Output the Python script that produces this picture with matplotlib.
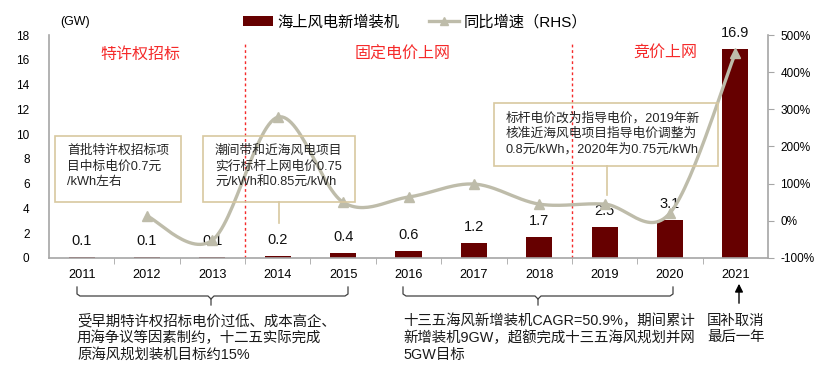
import numpy as np
import matplotlib
matplotlib.use('Agg')
import matplotlib.pyplot as plt
from matplotlib.patches import Rectangle, Patch
from matplotlib.lines import Line2D

plt.rcParams['font.family'] = ['Liberation Sans', 'Noto Sans CJK SC', 'DejaVu Sans']

years = ['2011', '2012', '2013', '2014', '2015', '2016', '2017', '2018', '2019', '2020', '2021']
installs = [0.1, 0.1, 0.1, 0.2, 0.4, 0.6, 1.2, 1.7, 2.5, 3.1, 16.9]
growth = [np.nan, 13, -52, 279, 50, 64, 99, 45, 45, 21, 451]
phase_labels = ['特许权招标', '固定电价上网', '竞价上网']
box_texts = ['首批特许权招标项\n目中标电价0.7元\n/kWh左右',
             '潮间带和近海风电项目\n实行标杆上网电价0.75\n元/kWh和0.85元/kWh',
             '标杆电价改为指导电价，2019年新\n核准近海风电项目指导电价调整为\n0.8元/kWh，2020年为0.75元/kWh']
bottom_texts = ['受早期特许权招标电价过低、成本高企、\n用海争议等因素制约，十二五实际完成\n原海风规划装机目标约15%',
                '十三五海风新增装机CAGR=50.9%，期间累计\n新增装机9GW，超额完成十三五海风规划并网\n5GW目标',
                '国补取消\n最后一年']
legend_labels = ['海上风电新增装机', '同比增速（RHS）']

W, H = 840, 381
fig = plt.figure(figsize=(W / 100, H / 100), dpi=100)
def fx(x): return x / W
def fy(y): return 1 - y / H

BAR = '#660000'
LINE = '#BEBCAA'
SPINE = '#A6A6A6'
RED = '#F52A2A'
BOXC = '#D8C8A0'

ax = fig.add_axes([fx(49), fy(258), fx(768) - fx(49), fy(35) - fy(258)])
ax2 = ax.twinx()

x = np.arange(len(years))
bars = ax.bar(x, installs, width=0.4, color=BAR, zorder=2)
ax.set_xlim(-0.5, len(years) - 0.5)
ax.set_ylim(0, 18)
ax.set_yticks(np.arange(0, 19, 2))
ax.set_xticks(x)
ax.set_xticklabels(years, fontsize=9.2)
ax.set_xticks(np.arange(0.5, len(years) - 0.5, 1), minor=True)
ax.tick_params(axis='x', which='major', length=0, pad=8)
ax.tick_params(axis='x', which='minor', length=4, color=SPINE, direction='out')
ax.tick_params(axis='y', length=0, pad=14, labelsize=8.5)
for lab in ax.get_yticklabels():
    lab.set_horizontalalignment('right')
for s in ['top', 'right']:
    ax.spines[s].set_visible(False)
ax.spines['left'].set_color(SPINE)
ax.spines['bottom'].set_color(SPINE)
ax.spines['left'].set_linewidth(1.2)
ax.spines['bottom'].set_linewidth(1.2)

for xi, v in zip(x, installs):
    ax.annotate(f'{v:.1f}', (xi, v), xytext=(0, 11.5), textcoords='offset points',
                ha='center', va='center', fontsize=10.5, color='#111111', zorder=5)

# smoothed growth line (Catmull-Rom through the data points)
gx = x[1:].astype(float)
gy = np.array(growth[1:], dtype=float)
P = np.column_stack([gx, gy])
pts = []
for i in range(len(P) - 1):
    p0 = P[i - 1] if i > 0 else P[i]
    p1, p2 = P[i], P[i + 1]
    p3 = P[i + 2] if i + 2 < len(P) else P[i + 1]
    c1 = p1 + (p2 - p0) / 6
    c2 = p2 - (p3 - p1) / 6
    t = np.linspace(0, 1, 30)[:, None]
    seg = (1 - t) ** 3 * p1 + 3 * (1 - t) ** 2 * t * c1 + 3 * (1 - t) * t ** 2 * c2 + t ** 3 * p2
    pts.append(seg if i == 0 else seg[1:])
pts = np.vstack(pts)
ax2.plot(pts[:, 0], pts[:, 1], color=LINE, lw=2.4, zorder=3, solid_capstyle='round')
ax2.plot(gx, gy, linestyle='none', marker='^', color=LINE, markersize=7, zorder=4)
ax2.set_ylim(-100, 500)
ax2.set_yticks(np.arange(-100, 501, 100))
ax2.set_yticklabels([f'{v}%' for v in range(-100, 501, 100)])
ax2.tick_params(axis='y', length=4, color=SPINE, labelsize=8.5, pad=5)
for s in ['top', 'left', 'bottom']:
    ax2.spines[s].set_visible(False)
ax2.spines['right'].set_color(SPINE)
ax2.spines['right'].set_linewidth(1.2)

# phase dividers and labels
for xd in [2.5, 7.5]:
    ax.axvline(xd, ymin=0, ymax=(258 - 42) / (258 - 35), color=RED, lw=1,
               linestyle=(0, (2, 2)), zorder=1)
for (px, py), t in zip([(140, 54), (403, 54), (665, 52)], phase_labels):
    fig.text(fx(px), fy(py), t, color=RED, fontsize=11.5, ha='center', va='center')

# annotation boxes
boxes = [(55, 136, 181, 202), (203, 136, 355, 202), (494, 103, 718, 166)]
for (x0, y0, x1, y1), t in zip(boxes, box_texts):
    fig.patches.append(Rectangle((fx(x0), fy(y1)), fx(x1) - fx(x0), fy(y0) - fy(y1),
                                 transform=fig.transFigure, facecolor='none',
                                 edgecolor=BOXC, lw=1.2, zorder=6))
    fig.text(fx(x0 + 12), fy(y0 + 9), t, fontsize=9.2, ha='left', va='top',
             color='#262626', linespacing=1.35, zorder=7)
for (lx, ly0, ly1) in [(279, 202, 223), (607, 166, 195)]:
    fig.add_artist(Line2D([fx(lx), fx(lx)], [fy(ly0), fy(ly1)], color=BOXC, lw=1.2))

# legend
handles = [Patch(facecolor=BAR, edgecolor='none'),
           Line2D([], [], color=LINE, lw=2.4, marker='^', markersize=6)]
fig.legend(handles, legend_labels, loc='center', bbox_to_anchor=(fx(415), fy(22)),
           ncol=2, frameon=False, fontsize=11, handlelength=2.0, handletextpad=0.3,
           columnspacing=1.9, borderpad=0)
fig.text(fx(60), fy(22), '(GW)', fontsize=9, ha='left', va='center')

# brackets
def bracket(xa, xm, xb, ytop=287, yh=296, ymid=305):
    c = '#404040'
    xs = [xa, xa, xa + 3, xm - 3, xm, xm]
    ys = [ytop, yh - 2, yh, yh, yh + 3, ymid]
    fig.add_artist(Line2D([fx(v) for v in xs], [fy(v) for v in ys], color=c, lw=0.9))
    xs = [xm, xm + 3, xb - 3, xb, xb]
    ys = [yh + 3, yh, yh, yh - 2, ytop]
    fig.add_artist(Line2D([fx(v) for v in xs], [fy(v) for v in ys], color=c, lw=0.9))
bracket(77, 211, 348)
bracket(403, 538, 673)
fig.add_artist(matplotlib.patches.FancyArrowPatch((fx(739), fy(306)), (fx(739), fy(281)),
               transform=fig.transFigure, arrowstyle='-|>', mutation_scale=12,
               color='black', lw=1.0))

for (tx, ty), t in zip([(77, 314), (403, 314), (707, 314)], bottom_texts):
    fig.text(fx(tx), fy(ty), t, fontsize=10.4, ha='left', va='top', color='#1a1a1a',
             linespacing=1.2)

fig.savefig('out.png', dpi=100)
